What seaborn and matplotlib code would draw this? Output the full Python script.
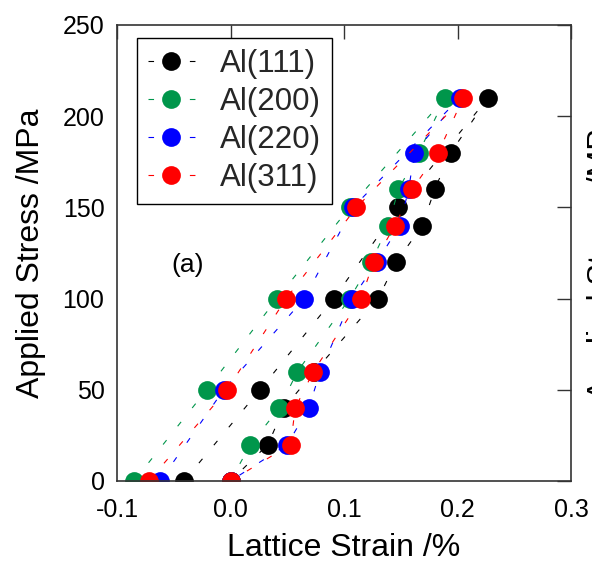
import matplotlib
matplotlib.use("Agg")
import matplotlib.pyplot as plt
from matplotlib.lines import Line2D
import seaborn as sns
import pandas as pd

# Applied stress sequence (loading up to 210 MPa, then unloading back to zero)
stress = [0, 50, 100, 150, 210, 180, 160, 140, 120, 100, 60, 40, 20, 0]

# Lattice strain (%) for each reflection along the stress sequence
strain_111 = [-0.041, 0.026, 0.091, 0.148, 0.227, 0.194, 0.180, 0.169, 0.146, 0.130, 0.074, 0.047, 0.033, 0.0]
strain_200 = [-0.085, -0.021, 0.041, 0.105, 0.189, 0.166, 0.148, 0.139, 0.124, 0.105, 0.059, 0.043, 0.0175, 0.0]
strain_220 = [-0.062, -0.006, 0.065, 0.108, 0.202, 0.162, 0.157, 0.149, 0.129, 0.107, 0.079, 0.069, 0.050, 0.0]
strain_311 = [-0.072, -0.003, 0.049, 0.111, 0.205, 0.183, 0.160, 0.145, 0.126, 0.115, 0.073, 0.057, 0.053, 0.0]

labels = ["Al(111)", "Al(200)", "Al(220)", "Al(311)"]
colors = ["#000000", "#00964B", "#0000FF", "#FF0000"]
series = [strain_111, strain_200, strain_220, strain_311]

sns.set_theme(style="white")
plt.rcParams["font.family"] = ["Liberation Sans", "DejaVu Sans"]

W, H = 592, 565
fig = plt.figure(figsize=(W / 100, H / 100), dpi=100)
ax = fig.add_axes([117 / W, 1 - 481 / H, (571 - 117) / W, (481 - 25) / H])

LW = 0.8
MS = 13.5
for lab, col, xs in zip(labels, colors, series):
    df = pd.DataFrame({"strain": xs, "stress": stress})
    sns.lineplot(data=df, x="strain", y="stress", sort=False, estimator=None,
                 ax=ax, color=col, linewidth=LW, linestyle=(0, (5, 16)),
                 marker="o", markersize=MS, markeredgewidth=0, legend=False)

ax.set_xlim(-0.1, 0.3)
ax.set_ylim(0, 250)
ax.set_xticks([-0.1, 0.0, 0.1, 0.2, 0.3])
ax.set_xticklabels(["-0.1", "0.0", "0.1", "0.2", "0.3"])
ax.set_yticks([0, 50, 100, 150, 200, 250])
ax.tick_params(direction="in", length=10, width=1, color="#333333",
               top=True, right=True, labelsize=18, labelcolor="black")
ax.tick_params(axis="x", pad=12)
ax.tick_params(axis="y", pad=9)
for sp in ax.spines.values():
    sp.set_color("#333333")
    sp.set_linewidth(1.2)

ax.set_xlabel("Lattice Strain /%", fontsize=23, labelpad=8, color="black")
ax.set_ylabel("Applied Stress /MPa", fontsize=23, labelpad=12, color="black")

ax.text(188 / W, 1 - 265 / H, "(a)", transform=fig.transFigure,
        fontsize=19, ha="center", va="center", color="black")

# Legend keys: a short dash on each side of the marker
handles = [Line2D([], [], color=c, linewidth=LW, linestyle=(0, (5, 32.25)),
                  marker="o", markersize=MS, markeredgewidth=0)
           for c in colors]
leg = ax.legend(handles, labels, loc="upper left",
                bbox_to_anchor=(137 / W, 1 - 38 / H),
                bbox_transform=fig.transFigure, borderaxespad=0,
                fontsize=22.5, frameon=True, fancybox=False, edgecolor="black",
                framealpha=1, handlelength=1.5, handletextpad=0.8,
                labelspacing=0.26, borderpad=0.35)
leg.get_frame().set_linewidth(1.0)

# Edge of the neighbouring panel's axis title, cut by the figure border
fig.text(587 / W, 1 - 255 / H, "Applied Stress /MPa", rotation=90,
         fontsize=23, ha="left", va="center", color="black")

fig.savefig("out.png", dpi=100)
